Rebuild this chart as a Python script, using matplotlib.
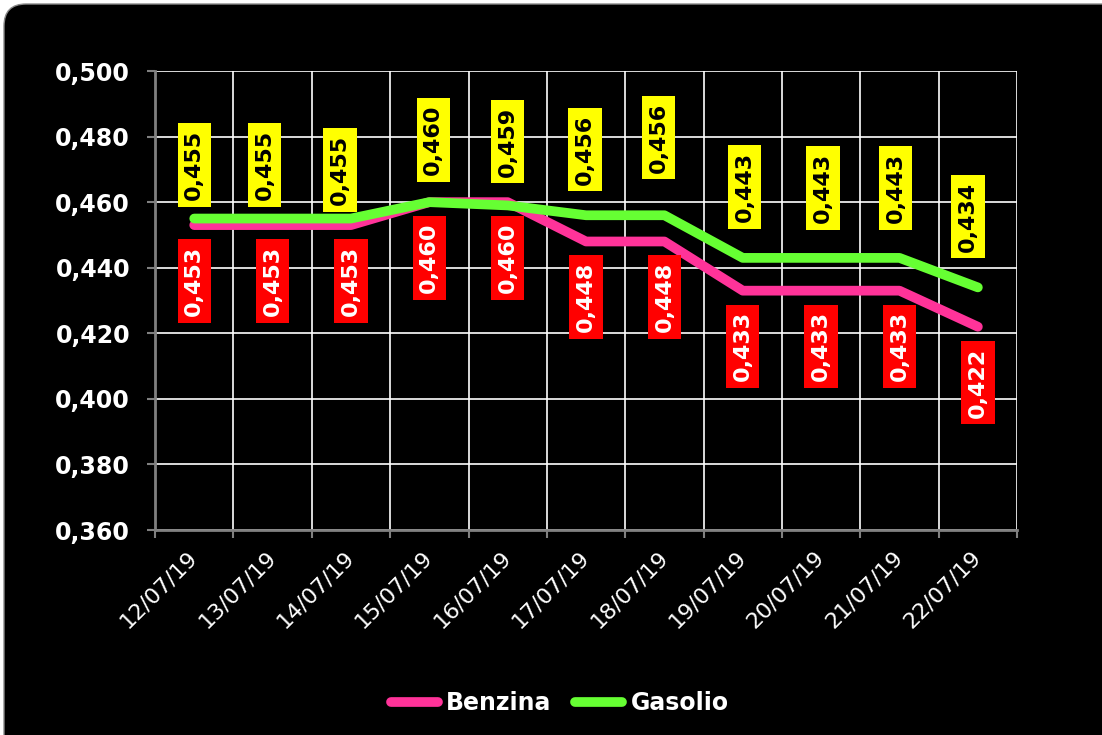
import matplotlib
matplotlib.use('Agg')
import matplotlib.pyplot as plt
import numpy as np
from matplotlib.patches import FancyBboxPatch
from matplotlib.transforms import IdentityTransform
from matplotlib.ticker import FixedLocator, NullFormatter

dates = ['12/07/19', '13/07/19', '14/07/19', '15/07/19', '16/07/19', '17/07/19',
         '18/07/19', '19/07/19', '20/07/19', '21/07/19', '22/07/19']
benzina = [0.453, 0.453, 0.453, 0.460, 0.460, 0.448, 0.448, 0.433, 0.433, 0.433, 0.422]
gasolio = [0.455, 0.455, 0.455, 0.460, 0.459, 0.456, 0.456, 0.443, 0.443, 0.443, 0.434]
y_ticks = [0.360, 0.380, 0.400, 0.420, 0.440, 0.460, 0.480, 0.500]

# yellow labels were nudged by hand in the original (pixels)
gas_dx = [0, -8, -11, 4, 0, -1, -6, 2, 2, -4, -10]
gas_gap = [12, 12, 7, 20, 22, 24, 36, 29, 28, 28, 29]
benz_gap = 14

PT = 0.72  # px -> pt at 100 dpi
LBL_SIZE = 16
BOX_PAD = 0.3
pad_px = BOX_PAD * LBL_SIZE / PT


def comma(v):
    return f'{v:.3f}'.replace('.', ',')


fig = plt.figure(figsize=(11.02, 7.35), dpi=100, facecolor='white')

# black rounded panel behind everything
bg = FancyBboxPatch((4, -30), 1130, 761, boxstyle='round,pad=0,rounding_size=22',
                    fc='black', ec='#8a8a8a', lw=1, transform=IdentityTransform(), zorder=-5)
fig.add_artist(bg)

ax = fig.add_axes([0.1407, 0.2789, 0.7822, 0.6245])
ax.set_facecolor('black')

x = np.arange(len(dates))
ax.plot(x, benzina, color='#FF3399', lw=7, solid_capstyle='round',
        solid_joinstyle='round', label='Benzina', zorder=3)
ax.plot(x, gasolio, color='#66FF33', lw=7, solid_capstyle='round',
        solid_joinstyle='round', label='Gasolio', zorder=4)

for i, v in enumerate(benzina):
    ax.annotate(comma(v), (i, v), xytext=(0, -(benz_gap + pad_px) * PT),
                textcoords='offset points', rotation=90, ha='center', va='top',
                fontsize=LBL_SIZE, fontweight='bold', color='white',
                bbox=dict(boxstyle=f'square,pad={BOX_PAD}', fc='#FF0000', ec='none'),
                zorder=6, annotation_clip=False)

for i, v in enumerate(gasolio):
    ax.annotate(comma(v), (i, v), xytext=(gas_dx[i] * PT, (gas_gap[i] + pad_px) * PT),
                textcoords='offset points', rotation=90, ha='center', va='bottom',
                fontsize=LBL_SIZE, fontweight='bold', color='black',
                bbox=dict(boxstyle=f'square,pad={BOX_PAD}', fc='#FFFF00', ec='none'),
                zorder=6, annotation_clip=False)

ax.set_xlim(-0.5, len(dates) - 0.5)
ax.set_ylim(0.36, 0.50)

ax.xaxis.set_major_locator(FixedLocator(np.arange(-0.5, len(dates), 1)))
ax.xaxis.set_major_formatter(NullFormatter())
ax.xaxis.set_minor_locator(FixedLocator(x))
ax.set_xticklabels(dates, minor=True)
ax.tick_params(axis='x', which='minor', length=0, pad=17, labelsize=16,
               labelcolor='white', labelrotation=45)
for lab in ax.get_xticklabels(minor=True):
    lab.set_ha('right')
    lab.set_va('center')
    lab.set_rotation_mode('anchor')

ax.set_yticks(y_ticks)
ax.set_yticklabels([comma(t) for t in y_ticks], fontweight='bold', fontsize=17, color='white')
ax.tick_params(axis='both', which='major', color='#808080', length=6, width=1.5,
               direction='out')
ax.tick_params(axis='y', pad=12)

ax.grid(True, which='major', color='white', lw=1.2)
ax.set_axisbelow(True)
for s in ['left', 'bottom']:
    ax.spines[s].set_color('#808080')
    ax.spines[s].set_linewidth(2)
for s in ['top', 'right']:
    ax.spines[s].set_visible(False)

fig.legend(loc='center', bbox_to_anchor=(0.508, 0.0435), ncol=2, frameon=False,
           prop=dict(weight='bold', size=17), labelcolor='white', handlelength=2.0,
           handletextpad=0.35, columnspacing=1.0)

fig.savefig('out.png', dpi=100, facecolor='white')
